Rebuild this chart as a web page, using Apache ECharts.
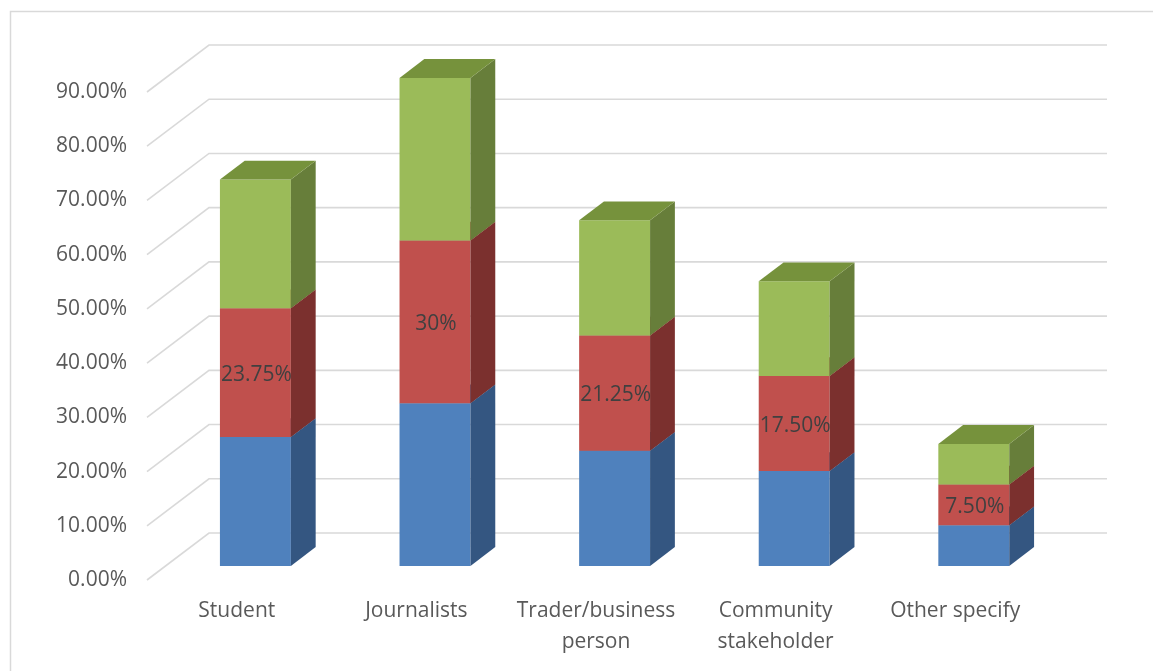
<!DOCTYPE html>
<html>
<head>
<meta charset="utf-8">
<script src="https://cdn.jsdelivr.net/npm/echarts@6/dist/echarts.min.js"></script>
<style>html,body{margin:0;padding:0;background:#fff;}#c{width:1153px;height:671px;}</style>
</head>
<body>
<div id="c"></div>
<script>
var categories = ['Student', 'Journalists', 'Trader/business\nperson', 'Community\nstakeholder', 'Other specify'];
var blueValues = [23.75, 30, 21.25, 17.5, 7.5];
var redValues = [23.75, 30, 21.25, 17.5, 7.5];
var greenValues = [23.75, 30, 21.25, 17.5, 7.5];
var redLabels = ['23.75%', '30%', '21.25%', '17.50%', '7.50%'];
var gridValues = [0, 10, 20, 30, 40, 50, 60, 70, 80, 90];

// 3D look (style)
var DX = 62, DY = -47, F1 = 0.3, F2 = 0.7, BAR_RATIO = 0.395;
var FONT = 'Open Sans';

function stackData(base, vals) {
  return vals.map(function (v, i) { return [i, base[i], base[i] + v]; });
}
var zeros = blueValues.map(function () { return 0; });
var redBase = blueValues.slice();
var greenBase = blueValues.map(function (v, i) { return v + redValues[i]; });

function makeRender(colors, labels) {
  return function (params, api) {
    var ci = api.value(0), lo = api.value(1), hi = api.value(2);
    var pLo = api.coord([ci, lo]), pHi = api.coord([ci, hi]);
    var band = api.size([1, 0])[0];
    var w = band * BAR_RATIO;
    var x0 = pLo[0] - w / 2 + DX * F1, x1 = x0 + w;
    var yb = pLo[1] + DY * F1, yt = pHi[1] + DY * F1;
    var ddx = DX * (F2 - F1), ddy = DY * (F2 - F1);
    var children = [
      { type: 'polygon', shape: { points: [[x0, yb], [x1, yb], [x1, yt], [x0, yt]] }, style: { fill: colors[0] } },
      { type: 'polygon', shape: { points: [[x1, yb], [x1 + ddx, yb + ddy], [x1 + ddx, yt + ddy], [x1, yt]] }, style: { fill: colors[1] } },
      { type: 'polygon', shape: { points: [[x0, yt], [x1, yt], [x1 + ddx, yt + ddy], [x0 + ddx, yt + ddy]] }, style: { fill: colors[2] } }
    ];
    if (labels) {
      children.push({
        type: 'text',
        style: {
          text: labels[params.dataIndex], x: (x0 + x1) / 2 + 1, y: (yb + yt) / 2 + 2,
          align: 'center', verticalAlign: 'middle', fill: '#404040', font: '21px "' + FONT + '"'
        }
      });
    }
    return { type: 'group', children: children };
  };
}

var chart = echarts.init(document.getElementById('c'));
chart.setOption({
  backgroundColor: '#fff',
  animation: false,
  graphic: [{
    type: 'rect', left: 8, top: 9, shape: { width: 1300, height: 800 },
    style: { fill: 'none', stroke: '#d9d9d9', lineWidth: 1.5 }, silent: true
  }],
  grid: { left: 147, right: 108, top: 92, bottom: 91 },
  xAxis: {
    type: 'category', data: categories,
    axisLine: { show: false }, axisTick: { show: false },
    axisLabel: { interval: 0, margin: 16, color: '#595959', fontSize: 21, lineHeight: 31, fontFamily: FONT }
  },
  yAxis: {
    type: 'value', min: 0, max: 90, interval: 10,
    splitLine: { show: false }, axisLine: { show: false }, axisTick: { show: false },
    axisLabel: {
      margin: 20, color: '#595959', fontSize: 21, fontFamily: FONT,
      formatter: function (v) { return v.toFixed(2) + '%'; }
    }
  },
  series: [
    {
      type: 'custom', name: 'grid', silent: true, z: 1,
      data: gridValues.map(function (v) { return [0, v]; }),
      encode: { x: 0, y: 1 },
      renderItem: function (params, api) {
        var p = api.coord([0, api.value(1)]);
        var cs = params.coordSys;
        var l = cs.x, r = cs.x + cs.width, y = p[1];
        return {
          type: 'polyline',
          shape: { points: [[l, y], [l + DX, y + DY], [r + DX, y + DY]] },
          style: { stroke: '#d9d9d9', lineWidth: 1.6, fill: 'none' }
        };
      }
    },
    {
      type: 'custom', name: 'Series 1', z: 2,
      data: stackData(zeros, blueValues), encode: { x: 0, y: [1, 2] },
      renderItem: makeRender(['#4f81bd', '#345681', '#3f6796'])
    },
    {
      type: 'custom', name: 'Series 2', z: 3,
      data: stackData(redBase, redValues), encode: { x: 0, y: [1, 2] },
      renderItem: makeRender(['#c0504d', '#7b302e', '#9a403d'], redLabels)
    },
    {
      type: 'custom', name: 'Series 3', z: 4,
      data: stackData(greenBase, greenValues), encode: { x: 0, y: [1, 2] },
      renderItem: makeRender(['#9bbb59', '#677e3a', '#76923c'])
    }
  ]
});
</script>
</body>
</html>
